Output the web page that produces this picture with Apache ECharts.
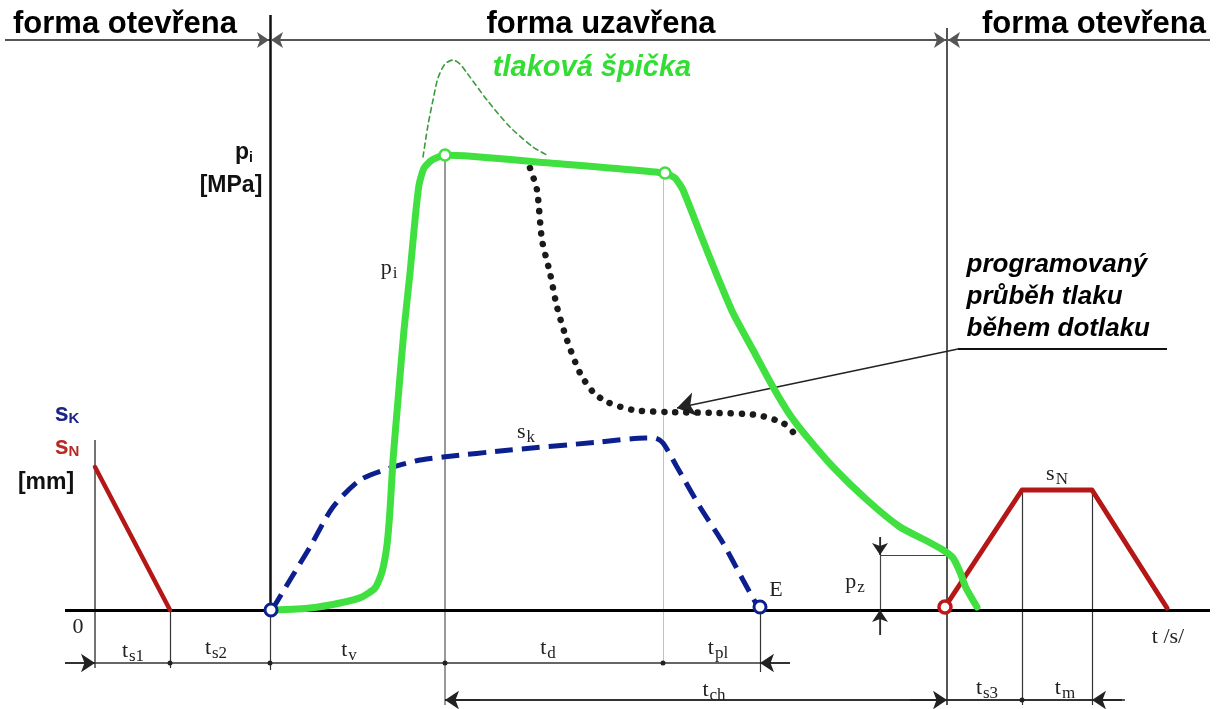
<!DOCTYPE html>
<html><head><meta charset="utf-8">
<script src="https://cdn.jsdelivr.net/npm/echarts@6/dist/echarts.min.js"></script>
<style>html,body{margin:0;padding:0;background:#fff}#c{width:1221px;height:709px}</style>
</head><body><div id="c"></div>
<script>
// x = time (drawing units), value = height above the time axis
const pressureCurve = [[273,0],[310,2],[340,7],[362,13],[375,22],[382,38],[387,65],[390,100],[393,150],[398,210],[404,280],[410,337],[415,390],[419,425],[424,442],[432,450],[445,455],[550,447],[665,437],[675,432],[683,420],[700,377],[716,337],[733,297],[753,260],[773,223],[790,195],[807,173],[833,143],[867,110],[900,83],[925,70],[943,60],[953,52],[960,38],[966,22],[977,3]];
const pressurePeak = [[423,453],[428,485],[433,510],[438,532],[445,546],[453,550],[460,546],[467,537],[487,510],[510,483],[533,463],[547,455]];
const programmedPressure = [[530,442],[537,420],[542,370],[550,337],[557,303],[567,270],[580,237],[593,218],[607,208],[633,200],[667,198],[717,197],[757,195],[783,187],[793,178]];
const screwStroke = [[272,0],[290,30],[310,63],[333,103],[360,130],[390,142],[420,150],[443,153],[510,160],[600,168],[645,172],[655,172],[663,167],[677,143],[700,103],[723,67],[743,30],[758,3]];
const nozzleRetract = [[95,143],[170,0]];
const nozzleStroke = [[945,3],[1022,120],[1092,120],[1167,2]];
const pressureMarks = [[445,455],[665,437]];
const strokeMarks = [[271,0],[760,3]];
const nozzleMarks = [[945,3]];
// phase boundaries on the time axis
const phaseTimes = [95,170,270,445,663,760,947,1022,1092];
const headerTexts = ['forma otevřena','forma uzavřena','forma otevřena'];
const timeLabels = ['{t|t}{ts|s1}','{t|t}{ts|s2}','{t|t}{ts|v}','{t|t}{ts|d}','{t|t}{ts|pl}','{t|t}{ts|ch}','{t|t}{ts|s3}','{t|t}{ts|m}'];

const chart = echarts.init(document.getElementById('c'), null, {renderer:'canvas'});

// structural segments: [x1,h1,x2,h2,color,width]
const P = phaseTimes;
const frame = [
  [5,570,1210,570,'#555',2],
  [P[2],595,P[2],0,'#111',2.5],
  [P[2],0,P[2],-60,'#333',1.2],
  [P[0],170,P[0],-58,'#444',1.5],
  [P[6],582,P[6],-95,'#555',2],
  [P[3],455,P[3],-95,'#777',1.5],
  [P[4],437,P[4],-55,'#c8c0c8',1],
  [P[5],0,P[5],-62,'#333',1.2],
  [P[1],0,P[1],-58,'#333',1.2],
  [P[7],120,P[7],-95,'#333',1.2],
  [P[8],120,P[8],-95,'#333',1.2],
  [880,55,P[6],55,'#444',1.2],
  [880,73,880,-25,'#444',1.2],
  [65,-53,790,-53,'#333',1.5],
  [P[3],-90,1122,-90,'#333',2],
  [958,261,1167,261,'#111',2],
  [65,0,1210,0,'#000',3]
];
// arrows: [fromX,fromH,toX,toH,size]
const arrows = [
  [65,-53,P[0],-53,14],[790,-53,P[5],-53,14],
  [480,-90,P[3],-90,14],[910,-90,P[6],-90,14],[1125,-90,P[8],-90,14],
  [250,570,P[2]-1,570,12],[290,570,P[2]+1,570,12],[927,570,P[6]-1,570,12],[967,570,P[6]+1,570,12],
  [880,73,880,55,12],[880,-25,880,0,12],
  [958,261,677,202,18]
];

const serif = 'Liberation Serif';
const sans = 'Liberation Sans';
const rich = {
  h:{fontFamily:sans,fontWeight:'bold',fontSize:31,color:'#000'},
  g:{fontFamily:sans,fontWeight:'bold',fontStyle:'italic',fontSize:29,color:'#33dd33'},
  a:{fontFamily:sans,fontWeight:'bold',fontStyle:'italic',fontSize:26,color:'#000',lineHeight:32},
  b:{fontFamily:sans,fontWeight:'bold',fontSize:23,color:'#111'},
  bs:{fontFamily:sans,fontWeight:'bold',fontSize:14,color:'#111',padding:[10,0,0,0]},
  kb:{fontFamily:sans,fontWeight:'bold',fontSize:25,color:'#1a2585'},
  kbs:{fontFamily:sans,fontWeight:'bold',fontSize:15,color:'#1a2585',padding:[10,0,0,0]},
  nr:{fontFamily:sans,fontWeight:'bold',fontSize:25,color:'#b82a26'},
  nrs:{fontFamily:sans,fontWeight:'bold',fontSize:15,color:'#b82a26',padding:[10,0,0,0]},
  t:{fontFamily:serif,fontSize:22,color:'#222'},
  ts:{fontFamily:serif,fontSize:17,color:'#222',padding:[12,0,0,1]}
};
const notes = [
  ['{h|'+headerTexts[0]+'}',125,586],
  ['{h|'+headerTexts[1]+'}',601,586],
  ['{h|'+headerTexts[2]+'}',1094,586],
  ['{g|tlaková špička}',592,542],
  ['{b|p}{bs|i}',244,457],
  ['{b|[MPa]}',231,424],
  ['{kb|s}{kbs|K}',67,196],
  ['{nr|s}{nrs|N}',67,163],
  ['{b|[mm]}',46,127],
  ['{t|0}',78,-17],
  [timeLabels[0],133,-41],[timeLabels[1],216,-38],[timeLabels[2],349,-40],[timeLabels[3],548,-38],
  [timeLabels[4],718,-38],[timeLabels[5],714,-80],[timeLabels[6],987,-78],[timeLabels[7],1065,-78],
  ['{t|t /s/}',1168,-27],
  ['{t|p}{ts|z}',855,28],
  ['{t|E}',776,20],
  ['{t|s}{ts|k}',526,178],
  ['{t|s}{ts|N}',1057,136],
  ['{t|p}{ts|i}',389,342]
];

function curve(data,color,width,type,z,extra){
  return Object.assign({type:'line',data,symbol:'none',smooth:0.25,silent:true,animation:false,z,
    lineStyle:{color,width,type,cap:'round',join:'round'}},extra||{});
}
function marks(data,color,size,bw,z){
  return {type:'scatter',data,symbol:'circle',symbolSize:size,silent:true,animation:false,z,
    itemStyle:{color:'#fff',borderColor:color,borderWidth:bw,opacity:1}};
}

const option = {
  backgroundColor:'#fff',
  animation:false,
  grid:{left:0,right:0,top:0,bottom:0},
  xAxis:{type:'value',min:0,max:1221,show:false},
  yAxis:{type:'value',min:-99,max:610,show:false},
  series:[
    {type:'lines',coordinateSystem:'cartesian2d',silent:true,animation:false,z:1,symbol:'none',
      data:frame.map(s=>({coords:[[s[0],s[1]],[s[2],s[3]]],lineStyle:{color:s[4],width:s[5],opacity:1}}))},
    {type:'lines',coordinateSystem:'cartesian2d',silent:true,animation:false,z:2,symbol:['none','arrow'],
      lineStyle:{color:'#222',width:1.5,opacity:1},
      data:arrows.map(a=>({coords:[[a[0],a[1]],[a[2],a[3]]],symbolSize:[0,a[4]],
        lineStyle:{color:a[1]===570?'#555':'#222',width:a[1]===570?2:1.5,opacity:1}}))},
    {type:'scatter',silent:true,animation:false,z:3,symbolSize:5,itemStyle:{color:'#222',opacity:1},
      data:[[P[1],-53],[P[2],-53],[P[3],-53],[P[4],-53],[P[7],-90]]},
    curve(pressurePeak,'#3b9a3b',1.6,[5,4],4),
    curve(screwStroke,'#0b1f8f',5,[18,9],5,{lineStyle:{color:'#0b1f8f',width:5,type:[18,9],cap:'butt'}}),
    curve(nozzleRetract,'#b51616',4.5,'solid',6,{smooth:false}),
    curve(nozzleStroke,'#b51616',5,'solid',6,{smooth:false}),
    curve(programmedPressure,'#1a1a1a',6.5,[0.1,11],7),
    curve(pressureCurve,'#3fe03f',7,'solid',8,{smooth:0.2}),
    marks(pressureMarks,'#3fe03f',11,2.5,9),
    marks(strokeMarks,'#0b1f8f',12,3,9),
    marks(nozzleMarks,'#c01818',12,3.5,9),
    {type:'scatter',silent:true,animation:false,z:10,symbolSize:1,itemStyle:{color:'rgba(0,0,0,0)',opacity:1},
      data:notes.map(n=>({value:[n[1],n[2]],label:{show:true,position:'inside',formatter:n[0],rich}}))},
    {type:'scatter',silent:true,animation:false,z:10,symbolSize:1,itemStyle:{color:'rgba(0,0,0,0)',opacity:1},
      data:[{value:[966,313],label:{show:true,position:'right',distance:0,align:'left',
        formatter:'{a|programovaný}\n{a|průběh tlaku}\n{a|během dotlaku}',rich}}]}
  ]
};
chart.setOption(option);
</script></body></html>
